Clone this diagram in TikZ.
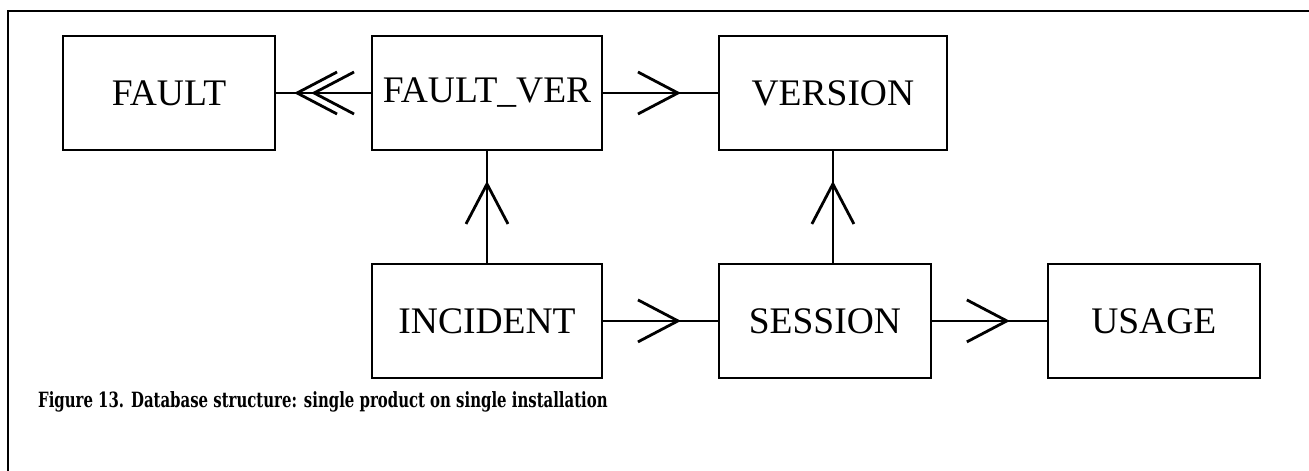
\documentclass[tikz,border=0pt]{standalone}
\usepackage{fontspec}
\setmainfont{Liberation Serif}
\newfontfamily\capfont[FakeStretch=0.71]{DejaVu Serif}
\usepackage{tikz}
\usetikzlibrary{arrows.meta,positioning,decorations.markings}

\tikzset{
    entity/.style={draw, line width=1.9pt, minimum width=212pt, minimum height=114pt,
        inner sep=0pt, font=\fontsize{37.5}{37.5}\selectfont},
    wide/.style={minimum width=230pt},
    chev/.tip={Straight Barb[length=40pt,width=42pt,line width=2.8pt]},
    link/.style={line width=1.5pt},
    tipat/.style={postaction={decorate},
        decoration={markings, mark=at position #1 with {\arrow{chev}}}},
    single/.style={tipat=-37pt},
    many/.style={postaction={decorate},
        decoration={markings, mark=at position -35pt with {\arrow{chev}},
            mark=at position -18pt with {\arrow{chev}}}},
}

\begin{document}
\begin{tikzpicture}[x=1pt,y=-1pt]
    \useasboundingbox (0,0) rectangle (1309,471);
    \draw[line width=1.5pt] (8,471) -- (8,11) -- (1309,11);

    \node[entity, wide] (fver) at (487,93) {FAULT\_VER};
    \node[entity, left=95pt of fver] (fault) {FAULT};
    \node[entity, minimum width=228pt, right=115pt of fver] (version) {VERSION};
    \node[entity, wide, below=112pt of fver] (incident) {INCIDENT};
    \node[entity, right=115pt of incident] (session) {SESSION};
    \node[entity, right=115pt of session] (usage) {USAGE};

    \draw[link, many] (fver) -- (fault);
    \draw[link, single] (fver) -- (version);
    \draw[link, tipat=-30pt] (incident) -- (fver);
    \draw[link, tipat=-30pt] (session.north -| version) -- (version);
    \draw[link, single] (incident) -- (session);
    \draw[link, single] (session) -- (usage);

    \node[anchor=base west, inner sep=0pt, font=\capfont\bfseries\fontsize{21}{21}\selectfont] (caption)
        at (38,407) {Figure 13. Database structure: single product on single installation};
\end{tikzpicture}
\end{document}
